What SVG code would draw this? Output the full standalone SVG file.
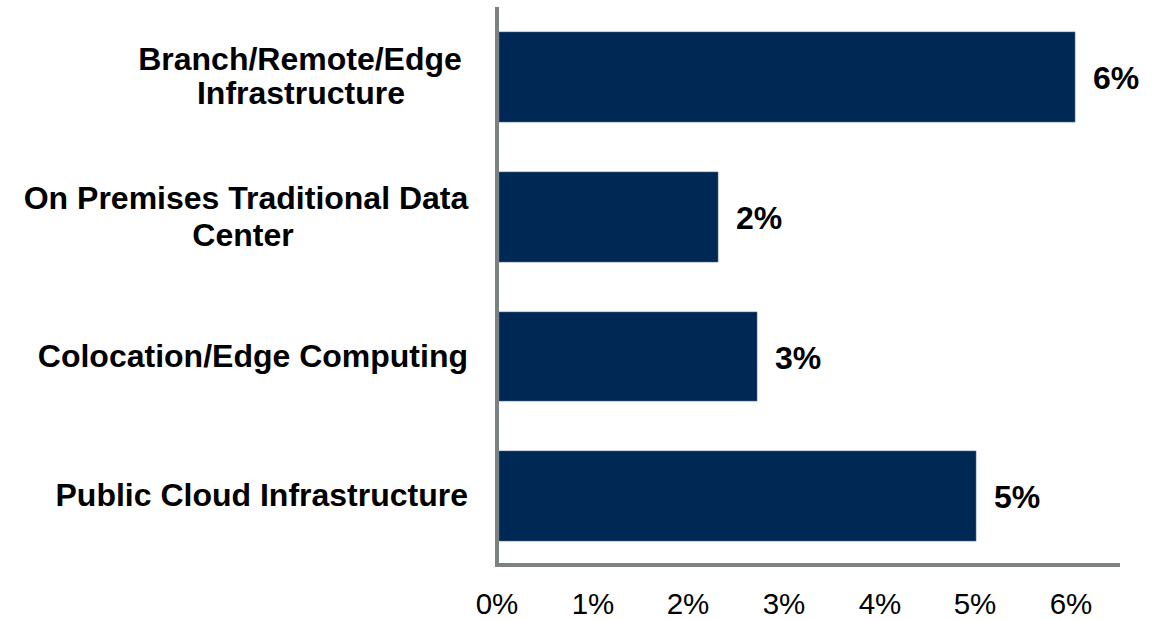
<svg xmlns="http://www.w3.org/2000/svg" width="1155" height="620" viewBox="0 0 1155 620">
<style>
.cat{font-family:"Liberation Sans",Arial,sans-serif;font-weight:bold;font-size:32px;fill:#000}
.val{font-family:"Liberation Sans",Arial,sans-serif;font-weight:bold;font-size:32px;fill:#000}
.tick{font-family:"Liberation Sans",Arial,sans-serif;font-size:29.5px;fill:#000;text-anchor:middle}
.bar{fill:#002855;stroke:#4a6285;stroke-width:0.6}
.axis{stroke:#7b8281;stroke-width:4;fill:none}
</style>
<rect width="1155" height="620" fill="#fff"/>
<g id="bars">
<rect class="bar" x="499" y="32" width="576" height="90"/>
<rect class="bar" x="499" y="172" width="219" height="90"/>
<rect class="bar" x="499" y="312" width="258" height="89"/>
<rect class="bar" x="499" y="451" width="477" height="90"/>
</g>
<g id="axes">
<path class="axis" d="M497 7 V565 H1120"/>
</g>
<g id="category-labels">
<text class="cat" x="300" y="70" text-anchor="middle">Branch/Remote/Edge</text>
<text class="cat" x="301" y="104" text-anchor="middle">Infrastructure</text>
<text class="cat" x="246" y="209" text-anchor="middle">On Premises Traditional Data</text>
<text class="cat" x="243" y="246" text-anchor="middle">Center</text>
<text class="cat" x="468" y="367" text-anchor="end">Colocation/Edge Computing</text>
<text class="cat" x="468" y="506" text-anchor="end">Public Cloud Infrastructure</text>
</g>
<g id="value-labels">
<text class="val" x="1093" y="89">6%</text>
<text class="val" x="736" y="229">2%</text>
<text class="val" x="775" y="369">3%</text>
<text class="val" x="994" y="508">5%</text>
</g>
<g id="tick-labels">
<text class="tick" x="497" y="614">0%</text>
<text class="tick" x="593" y="614">1%</text>
<text class="tick" x="688" y="614">2%</text>
<text class="tick" x="784" y="614">3%</text>
<text class="tick" x="880" y="614">4%</text>
<text class="tick" x="975" y="614">5%</text>
<text class="tick" x="1071" y="614">6%</text>
</g>
</svg>
